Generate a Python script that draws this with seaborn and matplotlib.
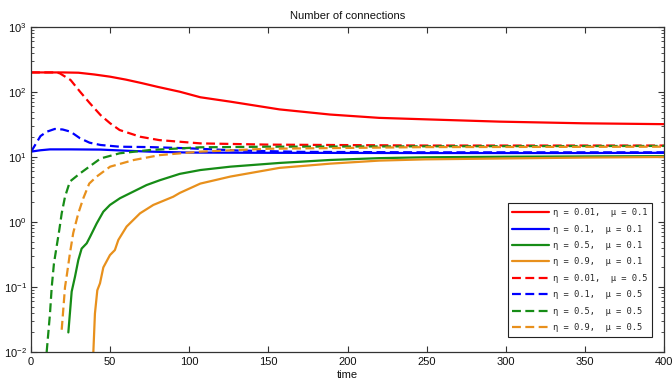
import numpy as np
import pandas as pd
import matplotlib
matplotlib.use("Agg")
import matplotlib.pyplot as plt
import seaborn as sns

# Mean number of connections over time for several (eta, mu) settings
t_r1 = [0, 20, 30, 40, 50, 60, 70, 80, 94, 107, 126, 157, 189, 220, 249, 296, 349, 400]
v_r1 = [200, 200, 198, 186, 172, 155, 137, 120, 101, 83, 71, 54, 45, 40, 38, 35, 33, 32]

t_b1 = [0, 6, 12, 25, 44, 60, 75, 100, 150, 250, 350, 400]
v_b1 = [12.1, 12.7, 13.1, 13.1, 13.0, 12.5, 12.1, 11.7, 11.6, 11.5, 11.5, 11.6]

t_g1 = [23.6, 25.7, 27.8, 29.9, 32, 35.2, 37.3, 41.5, 45.7, 49.9, 56.2, 64.6, 73, 81.5,
        94, 107, 126, 157, 189, 220, 249, 300, 350, 400]
v_g1 = [0.02, 0.085, 0.144, 0.26, 0.39, 0.47, 0.59, 0.95, 1.44, 1.83, 2.32, 2.93, 3.7, 4.4,
        5.5, 6.3, 7.1, 8.1, 9.0, 9.6, 9.9, 10.1, 10.2, 10.3]

t_o1 = [39.4, 40.4, 41.9, 43.6, 45.7, 49.9, 53, 55.2, 60.4, 68.9, 77.3, 89.9, 94, 107,
        126, 157, 189, 220, 249, 300, 350, 400]
v_o1 = [0.01, 0.039, 0.089, 0.114, 0.2, 0.31, 0.37, 0.53, 0.85, 1.36, 1.83, 2.45, 2.8, 3.9,
        5.0, 6.8, 7.9, 8.8, 9.2, 9.5, 9.8, 10.0]

t_r2 = [0, 15, 18, 25, 31, 37, 44, 50, 56, 69, 81, 107, 150, 250, 400]
v_r2 = [200, 200, 195, 153, 101, 68, 44, 33, 26, 20.5, 18.2, 16.2, 15.5, 15.0, 15.0]

t_b2 = [0, 6, 10, 15, 20, 25, 31, 37, 44, 56, 75, 100, 130, 170, 250, 400]
v_b2 = [12.0, 21, 24.5, 27, 26.5, 24.5, 19.4, 16.6, 15.3, 14.4, 14.2, 13.6, 12.6, 12.0, 11.8, 11.8]

t_g2 = [9.9, 12, 13.1, 14.5, 16.2, 17.9, 19.4, 21.5, 24.6, 31, 44, 56, 75, 107, 150, 250, 400]
v_g2 = [0.01, 0.039, 0.1, 0.23, 0.42, 0.76, 1.36, 2.45, 4.2, 5.6, 9.5, 11.4, 12.8, 14.1, 14.4, 14.6, 14.8]

t_o2 = [19.4, 21.5, 22.5, 24.6, 26.7, 29.9, 33, 36.8, 41.5, 50, 65, 81.5, 107, 150, 250, 400]
v_o2 = [0.022, 0.1, 0.144, 0.33, 0.68, 1.36, 2.3, 3.9, 5.0, 7.1, 9.0, 10.7, 12.1, 13.4, 14.2, 14.4]

labels = ["η = 0.01,  μ = 0.1", "η = 0.1,  μ = 0.1", "η = 0.5,  μ = 0.1", "η = 0.9,  μ = 0.1",
          "η = 0.01,  μ = 0.5", "η = 0.1,  μ = 0.5", "η = 0.5,  μ = 0.5", "η = 0.9,  μ = 0.5"]
times = [t_r1, t_b1, t_g1, t_o1, t_r2, t_b2, t_g2, t_o2]
values = [v_r1, v_b1, v_g1, v_o1, v_r2, v_b2, v_g2, v_o2]

colors = ["#ff0000", "#0000ff", "#168c16", "#e8901c"] * 2
styles = ["-"] * 4 + ["--"] * 4

sns.set_style("ticks")
plt.rcParams["font.family"] = ["Liberation Sans", "DejaVu Sans"]
plt.rcParams["mathtext.default"] = "regular"
plt.rcParams["axes.edgecolor"] = "#333333"
plt.rcParams["xtick.color"] = "#333333"
plt.rcParams["ytick.color"] = "#333333"

fig = plt.figure(figsize=(6.72, 3.84), dpi=100)
ax = fig.add_axes([31 / 672, 1 - 352 / 384, 633 / 672, 325 / 384])

for t, v, lab, c, ls in zip(times, values, labels, colors, styles):
    df = pd.DataFrame({"time": t, "connections": v})
    sns.lineplot(data=df, x="time", y="connections", ax=ax, color=c, linewidth=1.6,
                 estimator=None, sort=False, label=lab,
                 **({"dashes": False} if ls == "-" else {}))
    line = ax.get_lines()[-1]
    if ls == "--":
        line.set_dashes((4.0, 2.0))

ax.set_yscale("log")
ax.set_xlim(0, 400)
ax.set_ylim(1e-2, 1e3)
ax.set_xticks(np.arange(0, 401, 50))
ax.set_title("Number of connections", fontsize=8, color="#111111", pad=6)
ax.set_xlabel("time", fontsize=8, labelpad=2, color="#111111")
ax.set_ylabel("")
for s in ax.spines.values():
    s.set_visible(True)
    s.set_linewidth(0.9)
ax.tick_params(which="both", direction="in", top=True, right=True, labelsize=8,
               labelcolor="#111111")
ax.tick_params(which="major", length=4, width=0.8)
ax.tick_params(which="minor", length=2.5, width=0.6)
ax.tick_params(axis="y", which="major", pad=3)

leg = ax.legend(loc="lower right", bbox_to_anchor=(0.981, 0.046), borderaxespad=0,
                frameon=True, fancybox=False, edgecolor="#222222", framealpha=1,
                prop={"family": "DejaVu Sans Mono", "size": 6.3},
                handlelength=4.2, labelspacing=0.85, handletextpad=0.4,
                borderpad=0.55)
leg.get_frame().set_linewidth(0.8)

fig.savefig("out.png", dpi=100)
